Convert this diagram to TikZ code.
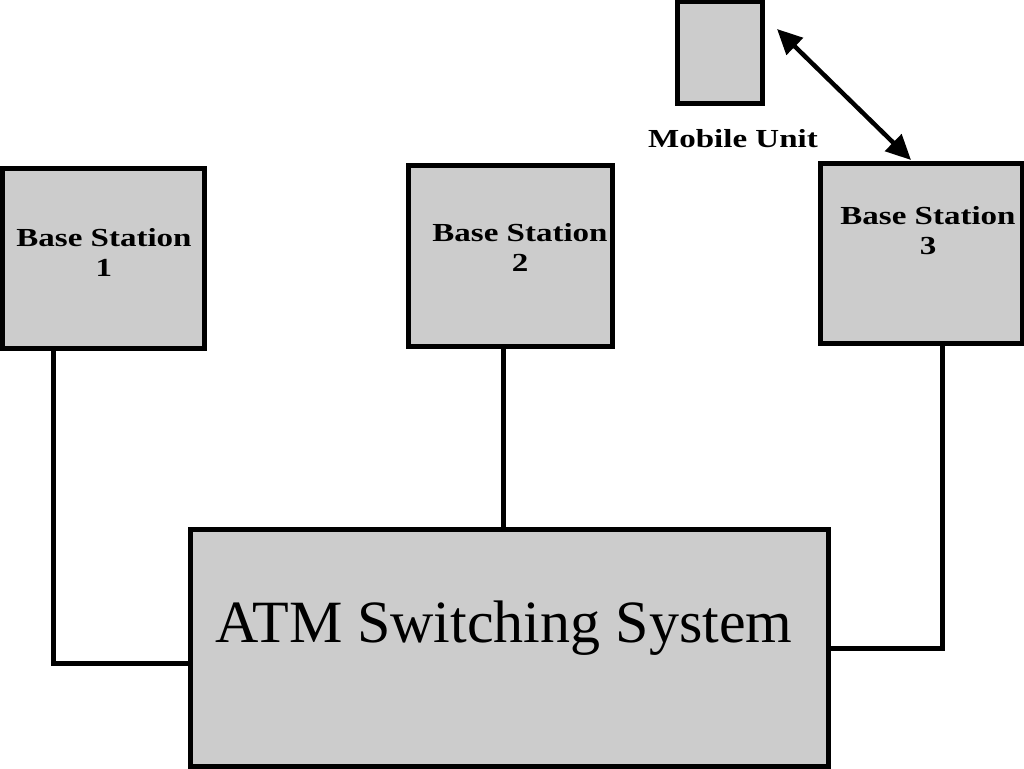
\documentclass[tikz,border=0pt]{standalone}
\usepackage{fontspec}
\setmainfont{Liberation Serif}
\newfontfamily\widefont[FakeStretch=1.27]{Liberation Serif}
\usetikzlibrary{arrows.meta}
\definecolor{boxgray}{RGB}{204,204,204}
\tikzset{
  unit/.style={draw, line width=5pt, fill=boxgray, inner sep=0pt, outer sep=0pt},
  wire/.style={line width=5pt},
  caption/.style={font=\widefont\bfseries\fontsize{26}{30}\selectfont, align=center, inner sep=0pt},
  radiotip/.tip={Triangle[length=25pt,width=23pt]},
}

\begin{document}
\begin{tikzpicture}[x=1pt,y=-1pt]
  \useasboundingbox (0,0) rectangle (1024,768);
  % boxes
  \node[unit, minimum width=85pt, minimum height=101pt] (mobile) at (719.5,52.5) {};
  \node[unit, minimum width=202pt, minimum height=180pt] (bs1) at (103,258) {};
  \node[unit, minimum width=204pt, minimum height=181pt] (bs2) at (510,255.5) {};
  \node[unit, minimum width=202pt, minimum height=180pt] (bs3) at (921,253) {};
  \node[unit, minimum width=638pt, minimum height=237pt] (atm) at (509,648) {};
  % texts
  \node[caption] (mobile-text) at (733,139) {Mobile Unit};
  \node[caption] (bs1-text) at (104,252) {Base Station\\1};
  \node[caption] (bs2-text) at (520,247) {Base Station\\2};
  \node[caption] (bs3-text) at (928,231) {Base Station\\3};
  \node[font=\fontsize{60}{62}\selectfont, inner sep=0pt] (atm-text) at (504,628) {ATM Switching System};
  % links to the switch
  \draw[wire] ([xshift=-50pt]bs1.south) |- ([yshift=-15pt]atm.west);
  \draw[wire] ([xshift=-7pt]bs2.south) -- ([xshift=-7pt]bs2.south |- atm.north);
  \draw[wire] ([xshift=21pt]bs3.south) |- (atm.east);
  % radio link
  \draw[line width=4.5pt, radiotip-radiotip] ([xshift=15pt,yshift=23.5pt]mobile.east) -- ([xshift=-10pt,yshift=3pt]bs3.north);
\end{tikzpicture}
\end{document}
